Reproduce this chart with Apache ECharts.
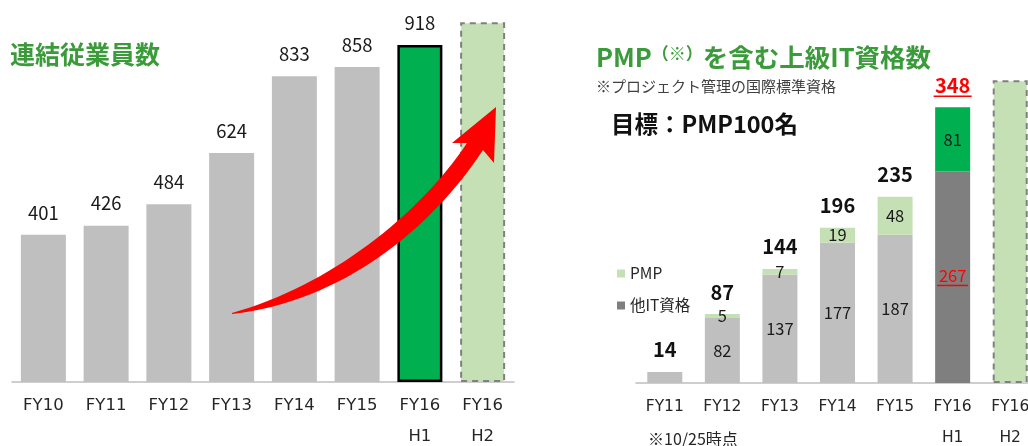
<!DOCTYPE html>
<html>
<head>
<meta charset="utf-8">
<script src="https://cdn.jsdelivr.net/npm/echarts@6/dist/echarts.min.js"></script>
<style>
html, body { margin: 0; padding: 0; background: #fff; }
#chart-container { width: 1028px; height: 446px; }
</style>
</head>
<body>
<div id="chart-container"></div>
<script>
var dom = document.getElementById('chart-container');
var myChart = echarts.init(dom, null, { renderer: 'canvas' });

var FONT = '"Noto Sans CJK JP", "Noto Sans", sans-serif';
var AXIS_FONT = '"DejaVu Sans", sans-serif';

// 連結従業員数
var empCategories = ['FY10', 'FY11', 'FY12', 'FY13', 'FY14', 'FY15', 'FY16\nH1', 'FY16\nH2'];
var empValues = [401, 426, 484, 624, 833, 858, 918, 980];

// 上級IT資格数
var itCategories = ['FY11', 'FY12', 'FY13', 'FY14', 'FY15', 'FY16\nH1', 'FY16\nH2'];
var otherIT = [14, 82, 137, 177, 187, 267, null];
var pmp = [0, 5, 7, 19, 48, 81, null];
var itTotals = [14, 87, 144, 196, 235, 348, null];
var itTarget = [null, null, null, null, null, null, 382];

var GRAY = '#bfbfbf';
var LIGHT_GREEN = '#c5e0b4';
var GREEN = '#00b050';
var DARK_GRAY = '#7f7f7f';
var TITLE_GREEN = '#3b9b3b';

// growth arrow (decoration, screen pixels)
var ARROW_PATH = 'M 232 313 C 330 286, 420 214, 467 143 L 452 143 L 496 107 L 494 163 L 483 150 C 432 228, 342 302, 232 314 Z';

var empData = empValues.map(function (v, i) {
    if (i === 6) {
        return { value: v, itemStyle: { color: GREEN, borderColor: '#000', borderWidth: 2.5 } };
    }
    if (i === 7) {
        return {
            value: v,
            itemStyle: { color: LIGHT_GREEN, borderColor: '#808080', borderWidth: 2, borderType: [6, 5] },
            label: { show: false }
        };
    }
    return v;
});

var otherData = otherIT.map(function (v, i) {
    if (i === 0) return { value: v, itemStyle: { color: GRAY }, label: { show: false } };
    if (i === 5) {
        return {
            value: v,
            itemStyle: { color: DARK_GRAY },
            label: { formatter: '{r|267}\n{u| }' }
        };
    }
    return { value: v, itemStyle: { color: GRAY } };
});

var pmpData = pmp.map(function (v, i) {
    if (i === 0) return { value: v, label: { show: false } };
    if (i === 5) return { value: v, itemStyle: { color: GREEN } };
    return v;
});

var totalData = itTotals.map(function (t, i) {
    if (t === null) return null;
    if (i === 5) {
        return { value: 0, label: { formatter: '{r|' + t + '}\n{u| }', distance: 10 } };
    }
    return 0;
});

var option = {
    textStyle: { fontFamily: FONT },
    title: [
        {
            text: '連結従業員数',
            left: 10, top: 42, padding: 0,
            textStyle: { color: TITLE_GREEN, fontSize: 25, fontWeight: 'bold', fontFamily: FONT }
        },
        {
            text: '{a|PMP}{b|（※）}{a|を含む上級IT資格数}',
            left: 596, top: 45, padding: 0,
            textStyle: {
                fontFamily: FONT,
                rich: {
                    a: { color: TITLE_GREEN, fontSize: 25.5, fontWeight: 'bold', fontFamily: FONT },
                    b: { color: TITLE_GREEN, fontSize: 17, fontWeight: 'bold', fontFamily: FONT, verticalAlign: 'top', padding: [0, 0, 8, 0] }
                }
            }
        },
        {
            text: '※プロジェクト管理の国際標準資格',
            left: 596, top: 79, padding: 0,
            textStyle: { color: '#404040', fontSize: 15, fontWeight: 'normal', fontFamily: FONT }
        },
        {
            text: '目標：PMP100名',
            left: 611, top: 112, padding: 0,
            textStyle: { color: '#111', fontSize: 23.5, fontWeight: 'bold', fontFamily: FONT }
        }
    ],
    legend: {
        data: ['PMP', '他IT資格'],
        orient: 'vertical',
        left: 612, top: 260,
        itemWidth: 8, itemHeight: 8, itemGap: 15,
        itemStyle: { borderWidth: 0 },
        icon: 'rect',
        selectedMode: false,
        textStyle: { fontSize: 15.5, color: '#262626', fontFamily: FONT, lineHeight: 17 }
    },
    grid: [
        { left: 12, width: 502, top: 15, bottom: 64, outerBoundsMode: 'none' },
        { left: 636, width: 403, top: 66, bottom: 63, outerBoundsMode: 'none' }
    ],
    xAxis: [
        {
            gridIndex: 0, type: 'category', data: empCategories,
            axisTick: { show: false },
            axisLine: { lineStyle: { color: GRAY, width: 1.5 } },
            axisLabel: { interval: 0, fontSize: 16.5, color: '#262626', lineHeight: 31, margin: 8, fontFamily: AXIS_FONT }
        },
        {
            gridIndex: 1, type: 'category', data: itCategories,
            axisTick: { show: false },
            axisLine: { lineStyle: { color: GRAY, width: 1.5 } },
            axisLabel: { interval: 0, fontSize: 15.5, color: '#262626', lineHeight: 31, margin: 8, fontFamily: AXIS_FONT }
        }
    ],
    yAxis: [
        { gridIndex: 0, type: 'value', min: 0, max: 1000, show: false },
        { gridIndex: 1, type: 'value', min: 0, max: 400, show: false }
    ],
    series: [
        {
            name: '連結従業員数', type: 'bar',
            xAxisIndex: 0, yAxisIndex: 0,
            data: empData, barWidth: 45,
            itemStyle: { color: GRAY },
            label: { show: true, position: 'top', distance: 13, fontSize: 18.5, color: '#1a1a1a', fontFamily: FONT }
        },
        {
            name: '他IT資格', type: 'bar', stack: 'it',
            xAxisIndex: 1, yAxisIndex: 1,
            data: otherData, barWidth: 35,
            itemStyle: { color: DARK_GRAY },
            label: {
                show: true, position: 'inside', fontSize: 16.5, color: '#1a1a1a', fontFamily: FONT,
                rich: {
                    r: { fontSize: 16.5, color: '#ff0000', fontFamily: FONT },
                    u: { width: 31, height: 1.5, lineHeight: 2, backgroundColor: '#ff0000', fontSize: 1 }
                }
            }
        },
        {
            name: 'PMP', type: 'bar', stack: 'it',
            xAxisIndex: 1, yAxisIndex: 1,
            data: pmpData, barWidth: 35,
            itemStyle: { color: LIGHT_GREEN },
            label: { show: true, position: 'inside', fontSize: 16.5, color: '#1a1a1a', fontFamily: FONT }
        },
        {
            name: '合計', type: 'bar', stack: 'it',
            xAxisIndex: 1, yAxisIndex: 1,
            data: totalData, barWidth: 35,
            itemStyle: { color: 'transparent' },
            label: {
                show: true, position: 'top', distance: 12,
                fontSize: 20, fontWeight: 'bold', color: '#111', fontFamily: FONT,
                formatter: function (p) { return itTotals[p.dataIndex]; },
                rich: {
                    r: { fontSize: 20, fontWeight: 'bold', color: '#ff0000', fontFamily: FONT },
                    u: { width: 38, height: 1.5, lineHeight: 2, backgroundColor: '#ff0000', fontSize: 1 }
                }
            }
        },
        {
            name: 'FY16 H2', type: 'bar', stack: 'it',
            xAxisIndex: 1, yAxisIndex: 1,
            data: itTarget, barWidth: 35,
            itemStyle: { color: LIGHT_GREEN, borderColor: '#808080', borderWidth: 2, borderType: [6, 5] }
        },
        {
            name: 'arrow', type: 'custom',
            xAxisIndex: 0, yAxisIndex: 0,
            data: [[0, 0]], z: 10, silent: true,
            renderItem: function () {
                return {
                    type: 'path',
                    shape: { pathData: ARROW_PATH, x: 232, y: 107, width: 264, height: 207 },
                    style: { fill: '#ff0000' }
                };
            }
        }
    ],
    graphic: [
        {
            type: 'text', left: 648, top: 431, z: 100,
            style: { text: '※10/25時点', fontSize: 16, fill: '#262626', fontFamily: FONT }
        }
    ]
};

if (option && typeof option === 'object') {
    myChart.setOption(option);
}

window.addEventListener('resize', myChart.resize);
</script>
</body>
</html>
